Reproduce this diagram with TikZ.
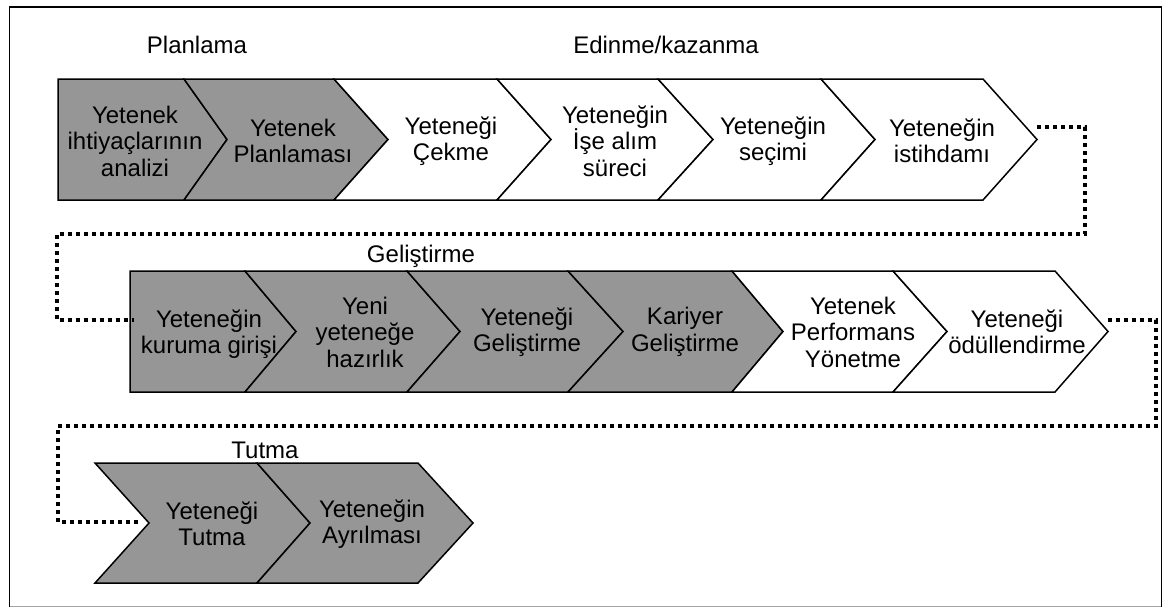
\documentclass[tikz,border=0pt]{standalone}
\usepackage{fontspec}
\setmainfont{Liberation Sans}
\definecolor{chevgray}{RGB}{150,150,150}
\definecolor{framegray}{RGB}{165,165,165}
\newcommand\stagefont{\fontsize{24}{26.5}\selectfont}
\tikzset{
  stage/.style={draw=black, line width=1.5pt, line join=miter, fill=chevgray},
  stagew/.style={stage, fill=white},
  lbl/.style={font=\stagefont, align=center, inner sep=0pt},
  phase/.style={font=\stagefont, inner sep=0pt, anchor=base},
  flow/.style={line width=3.6pt, dash pattern=on 4pt off 4pt},
}
\begin{document}
\begin{tikzpicture}[x=1pt, y=-1pt]
\useasboundingbox (0,0) rectangle (1164,608);
\fill[white] (0,0) rectangle (1164,608);

% outer frame
\draw[framegray, line width=1.5pt] (9.5,606.5) -- (1161.5,606.5);
\draw[black, line width=1.5pt] (9.5,606.5) -- (9.5,7) -- (1161.5,7) -- (1161.5,606.5);

% phase titles
\node[phase] (planlama) at (197,53) {Planlama};
\node[phase] (edinme)   at (666,53) {Edinme/kazanma};
\node[phase] (gelistirme) at (421,262) {Geliştirme};
\node[phase] (tutma)    at (265,458) {Tutma};

% ---- row 1 ----
\draw[stage]  (58,79) -- (184,79) -- (227,139.5) -- (184,200) -- (58,200) -- cycle;
\draw[stage]  (184,79) -- (334,79) -- (388,139.5) -- (334,200) -- (184,200) -- (227,139.5) -- cycle;
\draw[stagew] (334,79) -- (497,79) -- (551,139.5) -- (497,200) -- (334,200) -- (388,139.5) -- cycle;
\draw[stagew] (497,79) -- (658,79) -- (713,139.5) -- (658,200) -- (497,200) -- (551,139.5) -- cycle;
\draw[stagew] (658,79) -- (821,79) -- (875,139.5) -- (821,200) -- (658,200) -- (713,139.5) -- cycle;
\draw[stagew] (821,79) -- (983,79) -- (1037,139.5) -- (983,200) -- (821,200) -- (875,139.5) -- cycle;

\node[lbl] (s1) at (135,141) {Yetenek\\ihtiyaçlarının\\analizi};
\node[lbl] (s2) at (293,141) {Yetenek\\Planlaması};
\node[lbl] (s3) at (451,141) {Yeteneği\\Çekme};
\node[lbl] (s4) at (615,141) {Yeteneğin\\İşe alım\\süreci};
\node[lbl] (s5) at (773,141) {Yeteneğin\\seçimi};
\node[lbl] (s6) at (942,141) {Yeteneğin\\istihdamı};

% ---- row 2 ----
\draw[stage]  (130,271) -- (245,271) -- (296,331.5) -- (245,392) -- (130,392) -- cycle;
\draw[stage]  (245,271) -- (407,271) -- (460,331.5) -- (407,392) -- (245,392) -- (296,331.5) -- cycle;
\draw[stage]  (407,271) -- (568,271) -- (623,331.5) -- (568,392) -- (407,392) -- (460,331.5) -- cycle;
\draw[stage]  (568,271) -- (732,271) -- (783,331.5) -- (732,392) -- (568,392) -- (623,331.5) -- cycle;
\draw[stagew] (732,271) -- (893,271) -- (947,331.5) -- (893,392) -- (732,392) -- (783,331.5) -- cycle;
\draw[stagew] (893,271) -- (1055,271) -- (1108,331.5) -- (1055,392) -- (893,392) -- (947,331.5) -- cycle;

\node[lbl] (t1) at (209,334) {Yeteneğin\\kuruma girişi};
\node[lbl] (t2) at (365,332) {Yeni\\yeteneğe\\hazırlık};
\node[lbl] (t3) at (527,332) {Yeteneği\\Geliştirme};
\node[lbl] (t4) at (685,332) {Kariyer\\Geliştirme};
\node[lbl] (t5) at (853,332) {Yetenek\\Performans\\Yönetme};
\node[lbl] (t6) at (1017,332) {Yeteneği\\ödüllendirme};

% ---- row 3 ----
\draw[stage] (95,463) -- (257,463) -- (310,523) -- (257,583) -- (95,583) -- (149,523) -- cycle;
\draw[stage] (257,463) -- (418,463) -- (473,523) -- (418,583) -- (257,583) -- (310,523) -- cycle;

\node[lbl] (u1) at (212,524) {Yeteneği\\Tutma};
\node[lbl] (u2) at (372,524) {Yeteneğin\\Ayrılması};

% ---- dotted links between rows ----
\coordinate (r1out) at (1037,127);
\coordinate (r2in)  at (134,320);
\coordinate (r2out) at (1108,320);
\coordinate (r3in)  at (138,522);

\draw[flow] (r1out) -- (1085,127) -- (1085,234) -- (57,234) -- (57,320) -- (r2in);
\draw[flow] (r2out) -- (1156,320) -- (1156,426) -- (58,426) -- (58,522) -- (r3in);
\end{tikzpicture}
\end{document}
